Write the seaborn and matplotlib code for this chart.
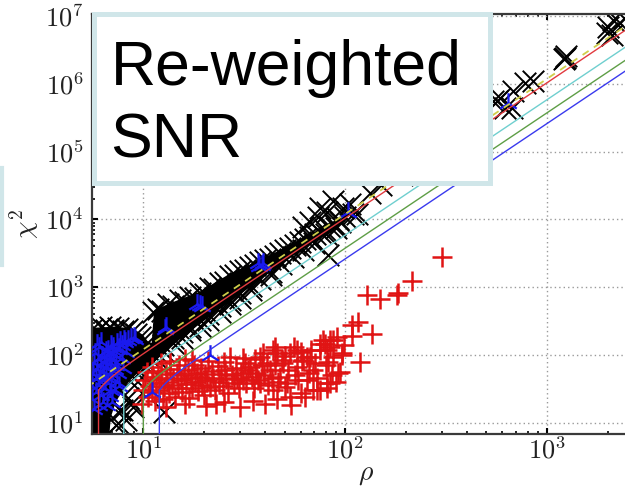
import numpy as np
import matplotlib
matplotlib.use("Agg")
import matplotlib.pyplot as plt
import seaborn as sns
from matplotlib.patches import Rectangle
from matplotlib.ticker import LogLocator, FuncFormatter, NullFormatter

sns.set_theme(style="white")
plt.rcParams["font.family"] = ["DejaVu Sans"]
plt.rcParams["mathtext.fontset"] = "cm"

# ---------------------------------------------------------------- data
# saturated core of the background-trigger cloud (outline of the solid region)
core_rho = [5.3, 5.3, 6.2, 7.2, 8.3, 9.3, 9.9, 10.5, 11.0, 11.3, 13.5, 19.1, 26.9,
            41.0, 59.6, 83.8, 100, 100, 83.8, 59.6, 42.3, 30.1, 19.1, 16.1, 13.2,
            10.8, 9.5, 8.6, 7.9, 7.3, 6.9, 6.7]
core_chi2 = [4.0, 250, 255, 262, 250, 225, 200, 160, 150, 454, 576, 865, 1590,
             2830, 5020, 8360, 10600, 9300, 6700, 3400, 1650, 780, 290, 195, 122,
             78, 56, 42, 30, 20, 12, 4.0]

# individual background triggers (black crosses)
bg_rho = [
    # upper edge of the low-SNR blob
    5.6, 5.9, 6.2, 6.5, 6.8, 7.1, 7.5, 7.9, 8.3, 8.8, 9.2, 9.6, 10.0, 10.3,
    # upper edge of the diagonal band
    11.2, 11.8, 12.4, 13.2, 14.0, 15.2, 16.0, 17.0, 18.0, 19.1, 20.2, 21.4, 22.5,
    24.0, 25.4, 26.9, 28.5, 30.1, 31.8, 33.7, 35.6, 37.8, 40.0, 42.3, 44.8, 47.4,
    50.0, 53.1, 56.3, 59.6, 63.0, 66.7, 70.5, 74.8, 79.0, 83.8, 88.5, 93.9,
    # lower edge of the band
    9.0, 9.0, 9.8, 10.5, 10.5, 11.5, 11.5, 12.5, 12.5, 14.0, 14.0, 15.5, 15.5,
    17.0, 17.0, 19.0, 19.0, 21.0, 21.0, 24.0, 24.0, 27.0, 27.0, 30.0, 30.0, 34.0,
    34.0, 38.0, 43.0, 43.0, 48.0, 55.0, 62.0, 70.0, 80.0, 90.0,
    # lower-right edge of the blob and strays
    9.63, 9.0, 8.4, 7.8, 7.3, 8.2, 7.7, 8.9, 7.5, 8.8, 12.6, 82.0,
    # sparse high-SNR triggers
    62.0, 66.7, 73.5, 74.8, 81.0, 87.0, 92.0, 97.8, 100.0, 105.0, 109.0, 114.0,
    132.0, 150.0, 190.0, 260.0, 350.0, 450.0,
    538.0, 562.0, 583.0, 617.0, 665.0, 679.0, 777.0, 853.0,
    1210.0, 1225.0, 1240.0, 1965.0, 2005.0, 2080.0, 2120.0, 2290.0, 2400.0,
]
bg_chi2 = [
    240, 225, 255, 230, 258, 235, 248, 228, 242, 222, 205, 185, 165, 145,
    425, 480, 440, 560, 520, 640, 600, 720, 690, 810, 800, 960, 940,
    1170, 1200, 1450, 1500, 1720, 1800, 2020, 2150, 2350, 2500, 2650, 2900, 3250,
    3500, 3850, 4200, 4700, 5100, 5550, 6000, 6600, 7100, 7800, 8400, 9200,
    60, 45, 75, 95, 70, 110, 90, 140, 115, 180, 150, 220, 180,
    260, 230, 330, 270, 400, 330, 520, 430, 650, 560, 820, 700, 1050,
    900, 1320, 1700, 1500, 2200, 2800, 3500, 4500, 6000, 7500,
    55.7, 35.8, 23.1, 15.4, 9.25, 10.9, 15.4, 17.0, 9.8, 19.3, 14.5, 3030,
    7630, 9040, 10700, 15000, 12700, 18800, 10200, 15000, 11000, 17000, 12000, 12000,
    24900, 32000, 45000, 80000, 150000, 260000,
    5.6e5, 5.57e5, 6.2e5, 4.44e5, 4.44e5, 7.8e5, 1.03e6, 1.1e6,
    2.3e6, 2.42e6, 2.55e6, 5.6e6, 7.06e6, 5.3e6, 8.85e6, 7.9e6, 9.5e6,
]

# software injections (red plus signs)
inj_rho = [
    9.8, 10.0, 10.2, 10.4, 10.6, 10.8, 11.0, 11.0, 11.2, 11.4, 11.5, 11.8, 12.0,
    12.2, 12.3, 12.5, 12.7, 12.9, 13.1, 13.4, 13.6, 13.8, 14.1, 14.3, 14.6, 14.8,
    15.0, 15.3, 15.6, 15.9, 16.1, 16.3, 16.6, 16.9, 17.2, 17.5, 17.8, 18.1, 18.4,
    18.7, 19.0, 19.3, 19.6, 20.0, 20.3, 20.7, 21.0, 21.4, 21.8, 22.2, 22.6, 23.0,
    23.4, 23.8, 24.3, 24.8, 25.3, 25.8, 26.3, 26.9, 27.4, 28.0, 28.6, 29.2, 29.8,
    30.5, 31.0, 31.7, 32.4, 33.1, 33.7, 34.5, 35.3, 35.6, 36.2, 37.0, 37.8, 37.8,
    38.6, 39.3, 39.5, 40.9, 41.5, 42.3, 43.3, 44.0, 44.0, 45.0, 45.8, 46.5, 47.6,
    48.5, 49.3, 50.5, 51.4, 52.0, 53.2, 53.2, 54.0, 55.5, 56.5, 57.5, 57.5, 58.5,
    60.0, 61.0, 62.0, 63.0, 64.6, 64.6, 66.0, 67.0, 69.5, 69.5, 72.0, 72.0, 75.0,
    75.0, 75.0, 77.8, 79.0, 80.0, 81.0, 81.0, 81.0, 82.0, 84.0, 84.0, 84.0, 86.0,
    87.0, 87.0, 90.6, 92.0, 94.5, 96.0, 96.0, 98.0,
    13.0, 16.0, 20.5, 25.0, 30.0, 35.0, 40.0, 46.0, 13.5, 17.5, 25.0, 31.0,
    50.0, 60.0, 68.0, 45.0, 71.0, 90.0,
    107.6, 116.0, 107.6, 118.0, 135.0, 128.0, 148.6, 180.0, 182.0, 213.0, 300.0,
]
inj_chi2 = [
    19, 30, 42, 56, 24, 35, 66, 28, 48, 21, 38, 58, 30,
    75, 44, 22, 34, 52, 40, 27, 62, 36, 46, 24, 55, 33,
    70, 42, 28, 50, 88, 37, 60, 23, 45, 33, 72, 40, 55,
    29, 48, 65, 36, 26, 52, 42, 80, 34, 58, 45, 30, 19,
    68, 40, 52, 35, 60, 44, 27, 93, 50, 38, 64, 46, 32,
    55, 42.5, 75, 38, 60, 66, 48, 33, 88, 55, 42, 93, 38,
    70, 105, 50, 75, 36, 60, 45, 117, 30, 70, 105, 40, 47.5,
    85, 75, 34, 38, 60, 105, 24, 18, 131, 50, 117, 66, 42,
    27, 80, 84, 24, 93, 42.5, 55, 93, 59.6, 30, 30, 45, 117,
    30, 147, 165, 147, 70, 117, 38, 32, 79, 131, 165, 38, 50,
    93, 165, 184, 54, 56, 107, 100, 140,
    17, 19, 17.5, 20, 17, 21, 19, 22, 80, 85, 78, 90,
    95, 110, 120, 130, 75, 40,
    273, 306, 188, 79, 206, 755, 675, 770, 828, 1255, 2820,
]

# found hardware / blind injections (blue tri markers)
hw_rho = [
    5.6, 5.6, 5.65, 5.7, 5.75, 5.8, 5.85, 5.9, 5.95, 6.0, 6.0, 6.05, 6.1, 6.15,
    6.2, 6.25, 6.3, 6.35, 6.4, 6.45, 6.5, 6.55, 6.6, 6.7, 6.75, 6.8, 6.9, 6.95,
    7.0, 7.1, 7.2, 7.3, 7.4, 7.6, 7.7, 7.1, 6.7, 6.5, 7.6,
    6.8, 7.0, 7.2, 7.4, 7.5, 7.3, 7.8, 7.0, 6.3, 6.6, 5.7, 6.9, 7.6, 7.9,
    8.2, 7.8, 6.2, 5.9, 6.6, 7.1,
    8.0, 8.1, 8.4, 8.7, 9.0, 9.1,
    11.0, 12.8, 13.0, 18.5, 19.1, 19.5, 21.4, 37.0, 37.5, 38.5, 39.0,
    103.5, 641.0,
]
hw_chi2 = [
    22, 35, 52, 75, 105, 28, 44, 62, 88, 18, 130, 36, 50, 70,
    26, 95, 42, 58, 80, 32, 115, 48, 66, 38, 90, 55, 140, 75,
    45, 120, 62, 95, 150, 125, 160, 130, 117, 66.5, 124,
    25, 20, 30, 40, 55, 70, 90, 105, 20, 18, 16, 30, 35, 65,
    110, 140, 155, 145, 100, 85,
    165, 154, 165, 180, 184, 174,
    28.6, 244, 257, 560, 538, 520, 99, 2300, 2050, 2100, 2250,
    12700, 5.25e5,
]

# contours of constant re-weighted SNR and the chi^2 = rho^2 guide
newsnr_levels = [6, 8, 10, 12]
newsnr_colors = ["#e23a3f", "#6fcfcf", "#5e9e46", "#3a3aee"]
chisq_dof = 30
guide_rho = [5.3, 3000.0]
guide_chi2 = [34.0, 1.08e7]

x_ticks = [10, 100, 1000]
y_ticks = [10, 1e2, 1e3, 1e4, 1e5, 1e6, 1e7]

# ---------------------------------------------------------------- figure
W, H = 625, 486
fig = plt.figure(figsize=(W / 100, H / 100), dpi=100)
fig.patch.set_facecolor("white")
ax = fig.add_axes([92 / W, (H - 434) / H, (640 - 92) / W, (434 - 14) / H])
ax.set_xscale("log")
ax.set_yscale("log")
ax.set_xlim(5.57, 2877)
ax.set_ylim(6.8, 1.08e7)
ax.set_facecolor("white")

ax.fill(core_rho, core_chi2, color="black", lw=0, zorder=1.5)
sns.scatterplot(x=bg_rho, y=bg_chi2, marker="x", s=240, color="black",
                linewidth=1.4, ax=ax, legend=False, zorder=2)
sns.scatterplot(x=inj_rho, y=inj_chi2, marker="+", s=210, color="#e01414",
                linewidth=1.8, ax=ax, legend=False, zorder=3)
sns.scatterplot(x=hw_rho, y=hw_chi2, marker="2", s=220, color="#1a1aee",
                linewidth=1.6, ax=ax, legend=False, zorder=4)

# each contour: vertical at rho = rho_hat below chi^2_r = 1, then
# rho = rho_hat * [(1 + chi_r^3) / 2]^(1/6) above it
chi_r = np.geomspace(1.0, 1.0e6, 500)
for level, col in zip(newsnr_levels, newsnr_colors):
    rho_curve = np.concatenate([[level], level * ((1 + chi_r ** 3) / 2) ** (1 / 6)])
    chi_curve = np.concatenate([[1.0], chisq_dof * chi_r])
    ax.plot(rho_curve, chi_curve, color=col, lw=1.0, zorder=5)
ax.plot(guide_rho, guide_chi2, color="#cfcf4a", lw=1.3, ls=(0, (4, 3.5)), zorder=5.5)

# axes cosmetics
ax.set_xticks(x_ticks)
ax.set_yticks(y_ticks)
ax.xaxis.set_minor_locator(LogLocator(base=10, subs=np.arange(2, 10), numticks=20))
ax.yaxis.set_minor_locator(LogLocator(base=10, subs=np.arange(2, 10), numticks=20))
fmt = FuncFormatter(lambda v, p: r"$10^{%d}$" % int(round(np.log10(v))))
ax.xaxis.set_major_formatter(fmt)
ax.yaxis.set_major_formatter(fmt)
ax.xaxis.set_minor_formatter(NullFormatter())
ax.yaxis.set_minor_formatter(NullFormatter())
ax.tick_params(which="both", direction="in", top=True, right=True,
               bottom=True, left=True, colors="black")
ax.tick_params(which="major", length=4, width=1.5, labelsize=19,
               labelcolor="#222222")
ax.tick_params(axis="x", which="major", pad=3)
ax.tick_params(axis="y", which="major", pad=6)
ax.tick_params(which="minor", length=2.5, width=1.2)
ax.grid(True, which="major", ls=(0, (1, 2.2)), color="#9a9a9a", lw=1.0)
ax.set_axisbelow(True)
for side in ["top", "bottom", "left", "right"]:
    ax.spines[side].set_color("#3a3a3a")
    ax.spines[side].set_linewidth(1.6)

ax.set_xlabel(r"$\rho$", fontsize=20, labelpad=-4, color="#222222")
ax.set_ylabel(r"$\chi^2$", fontsize=20, labelpad=3, color="#222222")

# title panel overlaid on the upper-left corner
border = "#d0e6e9"
fig.add_artist(Rectangle((94 / W, 1 - 182.5 / H), (490 - 94) / W, (182.5 - 14) / H,
                         transform=fig.transFigure, facecolor="white",
                         edgecolor=border, lw=3.6, zorder=5))
fig.add_artist(Rectangle((-100 / W, 1 - 265 / H), 102 / W, (265 - 168) / H,
                         transform=fig.transFigure, facecolor="white",
                         edgecolor=border, lw=3.0, zorder=5))
fig.text(110.5 / W, 1 - 85 / H, "Re-weighted", fontsize=45,
         family=["Liberation Sans", "DejaVu Sans"], ha="left", va="baseline",
         color="black", zorder=6)
fig.text(110.5 / W, 1 - 158 / H, "SNR", fontsize=45,
         family=["Liberation Sans", "DejaVu Sans"], ha="left", va="baseline",
         color="black", zorder=6)

fig.savefig("out.png", dpi=100, facecolor="white")
